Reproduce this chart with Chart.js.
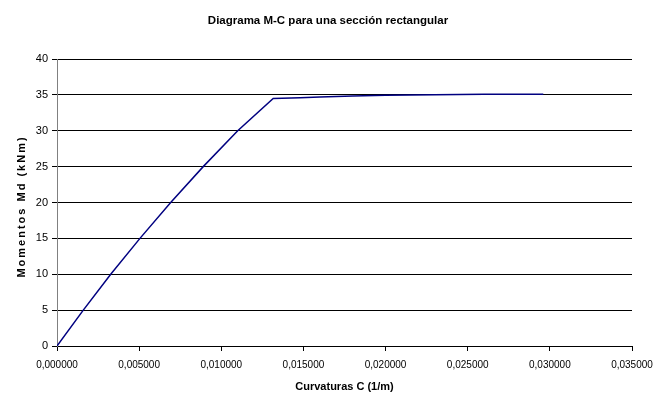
<!DOCTYPE html>
<html>
<head>
<meta charset="utf-8">
<script src="https://cdn.jsdelivr.net/npm/chart.js@4/dist/chart.umd.min.js"></script>
<style>
  html, body { margin: 0; padding: 0; background: #fff; }
  #wrap { width: 656px; height: 394px; position: relative; }
</style>
</head>
<body>
<div id="wrap"><canvas id="c" width="656" height="394"></canvas></div>
<script>
// Curvature (1/m) and design moment (kNm) of the rectangular section
const curvatures = [0, 0.00160, 0.00327, 0.00505, 0.00692, 0.00890, 0.01100, 0.01316,
                    0.01480, 0.01600, 0.01800, 0.02000, 0.02300, 0.02600, 0.02960];
const moments    = [0, 5, 10, 15, 20, 25, 30, 34.5,
                    34.6, 34.72, 34.85, 34.95, 35.02, 35.07, 35.1];

const xTicks = [0, 0.005, 0.010, 0.015, 0.020, 0.025, 0.030, 0.035];
const yTicks = [0, 5, 10, 15, 20, 25, 30, 35, 40];

const yAxisTitle = 'Momentos Md (kNm)';

const points = curvatures.map((c, i) => ({ x: c, y: moments[i] }));
const FONT = 'Liberation Sans, Arial, sans-serif';

// Rotated, letter-spaced title for the moment axis
const spacedYTitle = {
  id: 'spacedYTitle',
  afterDraw(chart) {
    const { ctx, chartArea } = chart;
    ctx.save();
    ctx.translate(22, (chartArea.top + chartArea.bottom) / 2 + 4);
    ctx.rotate(-Math.PI / 2);
    ctx.font = 'bold 11px ' + FONT;
    if ('letterSpacing' in ctx) ctx.letterSpacing = '2px';
    ctx.fillStyle = '#000';
    ctx.textAlign = 'center';
    ctx.textBaseline = 'middle';
    ctx.fillText(yAxisTitle, 0, 0);
    ctx.restore();
  }
};

new Chart(document.getElementById('c'), {
  type: 'scatter',
  data: {
    datasets: [{
      data: points,
      showLine: true,
      borderColor: '#000080',
      borderWidth: 1.5,
      pointRadius: 0,
      tension: 0
    }]
  },
  options: {
    responsive: false,
    animation: false,
    layout: { padding: { left: 0, right: 0, top: 0, bottom: 0 } },
    plugins: {
      legend: { display: false },
      tooltip: { enabled: false },
      title: {
        display: true,
        text: 'Diagrama M-C para una sección rectangular',
        color: '#000',
        font: { family: FONT, size: 11.5, weight: 'bold', lineHeight: 1.2 },
        padding: { top: 14, bottom: 31.2 }
      }
    },
    scales: {
      x: {
        type: 'linear',
        min: 0, max: 0.035,
        afterBuildTicks: s => { s.ticks = xTicks.map(v => ({ value: v })); },
        afterFit: s => { s.height = 48; s.paddingRight = 24; s.paddingLeft = 0; },
        border: { color: '#000', width: 1 },
        grid: { display: true, drawOnChartArea: false, drawTicks: true, tickLength: 5, color: '#000' },
        ticks: {
          color: '#000',
          font: { family: FONT, size: 10 },
          padding: 8,
          maxRotation: 0,
          autoSkip: false,
          callback: v => v.toFixed(6).replace('.', ',')
        },
        title: {
          display: true,
          text: 'Curvaturas C (1/m)',
          color: '#000',
          font: { family: FONT, size: 11, weight: 'bold' },
          padding: { top: 6, bottom: 0 }
        }
      },
      y: {
        type: 'linear',
        min: 0, max: 40,
        afterBuildTicks: s => { s.ticks = yTicks.map(v => ({ value: v })); },
        afterFit: s => { s.width = 57; },
        border: { color: '#808080', width: 1 },
        grid: { color: '#000', lineWidth: 1, drawTicks: true, tickLength: 5 },
        ticks: {
          color: '#000',
          font: { family: FONT, size: 11 },
          padding: 4
        },
        title: { display: false }
      }
    }
  },
  plugins: [spacedYTitle]
});
</script>
</body>
</html>
